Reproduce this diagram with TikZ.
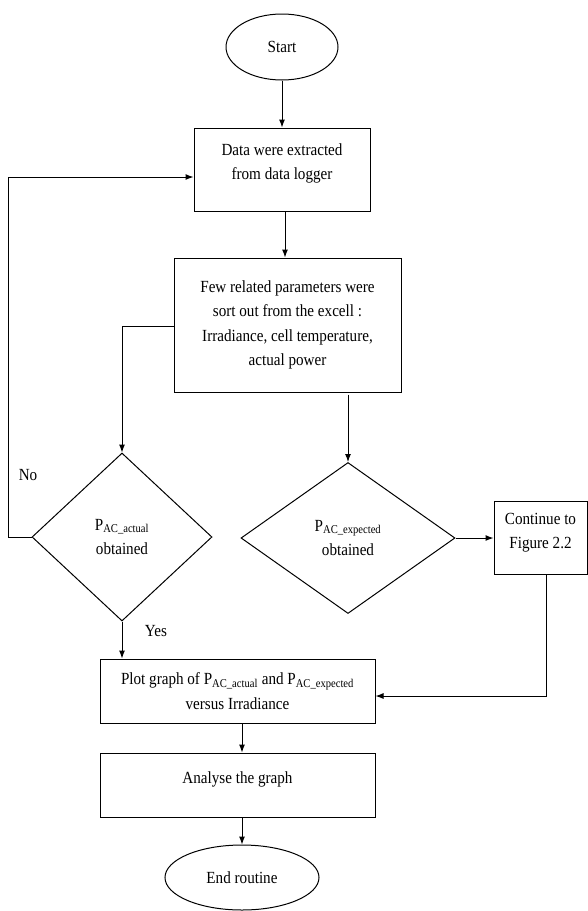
\documentclass[tikz,border=0pt]{standalone}
\usepackage{fontspec}
\setmainfont{Liberation Serif}[FakeStretch=0.89]
\usetikzlibrary{shapes.geometric,arrows.meta}
\tikzset{
  box/.style={draw,rectangle,align=center,inner sep=2pt},
  term/.style={draw,ellipse,inner sep=1pt},
  decide/.style={draw,diamond,align=center,inner sep=0pt},
  flow/.style={-{Latex[length=8pt,width=6pt]}},
}

\begin{document}
\begin{tikzpicture}[x=1pt,y=-1pt,line width=1pt,font=\fontsize{17}{24.5}\selectfont]
			\useasboundingbox (0,0) rectangle (588,911);
			\node[term,minimum width=112pt,minimum height=66pt] (start) at (282,47) {Start};
			\node[box,minimum width=176pt,minimum height=83pt,text depth=16pt] (data) at (282,169.5) {Data were extracted\\from data logger};
			\node[box,minimum width=227pt,minimum height=134pt] (few) at (287.5,325) {Few related parameters were\\sort out from the excell :\\Irradiance, cell temperature,\\actual power};
			\node[decide,minimum width=180pt,minimum height=168pt] (actual) at (122,537) {P\textsubscript{AC\_actual}\\obtained};
			\node[decide,minimum width=214pt,minimum height=151pt] (expected) at (348,538) {P\textsubscript{AC\_expected}\\obtained};
			\node[box,minimum width=93pt,minimum height=73pt,text depth=13pt] (cont) at (540.5,537.5) {Continue to\\Figure 2.2};
			\node[box,minimum width=275pt,minimum height=64pt] (plot) at (237.5,691) {Plot graph of P\textsubscript{AC\_actual} and P\textsubscript{AC\_expected}\\versus Irradiance};
			\node[box,minimum width=275pt,minimum height=64pt,text depth=15pt] (analyse) at (237.5,785) {Analyse the graph};
			\node[term,minimum width=154pt,minimum height=65pt] (end) at (242,877.5) {End routine};
			\node (no) at (28,475) {No};
			\node (yes) at (156,631) {Yes};
			\coordinate (back) at (8,537);

			\draw[flow] (start) -- (start |- data.north);
			\draw[flow] ([xshift=3pt]data.south) -- ([xshift=3pt]data.south |- few.north);
			\draw[flow] ([yshift=-1pt]few.west) -| (actual.north);
			\draw[flow] ([yshift=-2pt]few.south -| expected.north) -- (expected.north);
			\draw[flow] (actual.west) -- (back) |- ([yshift=-7.5pt]data.west);
			\draw[flow] (actual.south) -- (actual.south |- plot.north);
			\draw[flow] (expected.east) -- (expected.east -| cont.west);
			\draw[flow] ([xshift=5.5pt]cont.south) |- ([yshift=-5pt]plot.east);
			\draw[flow] (end.north |- plot.south) -- (end.north |- analyse.north);
			\draw[flow] (end.north |- analyse.south) -- (end.north);
		\end{tikzpicture}
\end{document}
